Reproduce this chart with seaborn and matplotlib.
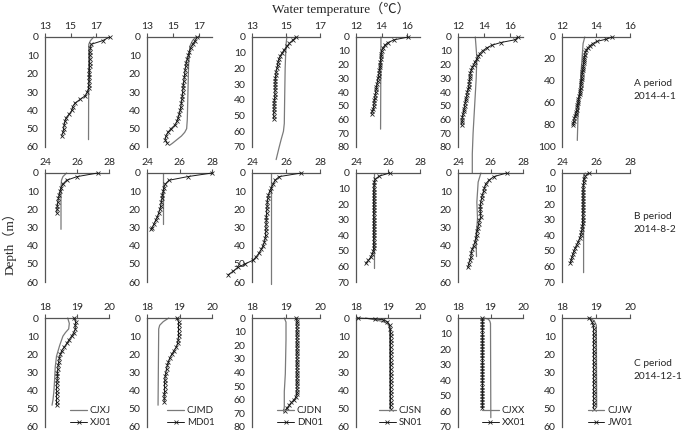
import matplotlib
matplotlib.use('Agg')
import matplotlib.pyplot as plt
import pandas as pd
import seaborn as sns

# (depth m, water temperature C)
# A period 2014-4-1
A_CJXJ = [(0, 16.8), (2, 16.55), (4, 16.42), (56, 16.4)]
A_XJ01 = [(0, 18.05), (2, 17.5), (4, 16.6), (6, 16.55), (8, 16.5), (10, 16.5), (12, 16.5), (14, 16.48),
          (16, 16.48), (18, 16.47), (20, 16.47), (22, 16.46), (24, 16.45), (26, 16.43), (28, 16.4),
          (30, 16.3), (32, 16.15), (34, 15.75), (36, 15.35), (38, 15.15), (40, 15.1), (42, 14.9),
          (44, 14.65), (46, 14.55), (48, 14.5), (50, 14.45), (52, 14.4), (54, 14.3)]
A_CJMD = [(0, 16.75), (2, 16.5), (5, 16.3), (15, 16.2), (30, 16.15), (45, 16.1), (50, 16.05),
          (52, 15.9), (54, 15.65), (56, 15.3), (58, 14.95), (59, 14.75)]
A_MD01 = [(0, 16.85), (2, 16.7), (4, 16.5), (6, 16.35), (8, 16.25), (10, 16.18), (12, 16.1), (14, 16.02),
          (16, 15.98), (18, 15.93), (20, 15.9), (22, 15.87), (24, 15.83), (26, 15.8), (28, 15.77),
          (30, 15.74), (32, 15.72), (34, 15.68), (36, 15.65), (38, 15.6), (40, 15.55), (42, 15.48),
          (44, 15.4), (46, 15.3), (48, 15.15), (50, 14.85), (52, 14.6), (54, 14.45), (56, 14.4), (58, 14.55)]
A_CJDN = [(0, 15.05), (5, 15.0), (20, 14.95), (40, 14.92), (55, 14.9), (60, 14.85), (65, 14.72),
          (70, 14.6), (78, 14.42)]
A_DN01 = [(0, 15.6), (2, 15.4), (4, 15.2), (6, 15.06), (8, 14.9), (10, 14.78), (12, 14.66), (14, 14.58),
          (16, 14.53), (18, 14.5), (20, 14.46), (22, 14.42), (24, 14.4), (26, 14.38), (28, 14.37),
          (30, 14.36), (32, 14.36), (34, 14.35), (36, 14.35), (38, 14.34), (40, 14.32), (42, 14.3),
          (44, 14.3), (46, 14.29), (48, 14.28), (50, 14.28), (52, 14.28)]
A_CJSN = [(0, 13.95), (67, 13.92)]
A_SN01 = [(0, 16.1), (2, 15.0), (4, 14.5), (6, 14.25), (8, 14.1), (10, 14.0), (12, 13.97), (14, 13.95),
          (16, 13.93), (18, 13.9), (20, 13.88), (22, 13.86), (24, 13.83), (26, 13.8), (28, 13.76),
          (30, 13.72), (32, 13.68), (34, 13.64), (36, 13.6), (38, 13.57), (40, 13.54), (42, 13.5),
          (44, 13.47), (46, 13.44), (48, 13.41), (50, 13.39), (52, 13.35), (54, 13.28), (56, 13.22)]
A_CJXX = [(0, 13.33), (15, 13.45), (30, 13.4), (50, 13.28), (70, 13.16), (85, 13.1), (99, 13.1)]
A_XX01 = [(0, 16.6), (2, 16.4), (4, 15.3), (6, 14.6), (8, 14.2), (10, 13.9), (12, 13.68), (14, 13.55),
          (16, 13.45), (18, 13.3), (20, 13.2), (22, 13.1), (24, 13.02), (26, 12.95), (28, 12.92),
          (30, 12.9), (32, 12.88), (34, 12.85), (36, 12.83), (38, 12.78), (40, 12.72), (42, 12.68),
          (44, 12.63), (46, 12.58), (48, 12.55), (50, 12.5), (52, 12.47), (54, 12.43), (56, 12.38),
          (58, 12.34), (60, 12.32), (62, 12.3), (64, 12.28)]
A_CJJW = [(0, 13.34), (6, 13.24), (28, 13.14), (52, 13.04), (67, 12.95), (94, 12.9)]
A_JW01 = [(0, 14.95), (2, 14.6), (4, 14.05), (6, 13.8), (8, 13.64), (10, 13.5), (12, 13.42), (14, 13.37),
          (16, 13.34), (18, 13.32), (20, 13.3), (22, 13.29), (24, 13.27), (26, 13.25), (28, 13.24),
          (30, 13.22), (32, 13.2), (34, 13.19), (36, 13.17), (38, 13.15), (40, 13.14), (42, 13.12),
          (44, 13.11), (46, 13.1), (48, 13.08), (50, 13.06), (52, 13.04), (54, 13.0), (56, 12.97),
          (58, 12.95), (60, 12.93), (62, 12.91), (64, 12.9), (66, 12.87), (68, 12.83), (70, 12.8),
          (72, 12.77), (74, 12.73), (76, 12.7), (78, 12.67), (80, 12.65)]

# B period 2014-8-2
B_CJXJ = [(0, 25.35), (2, 25.12), (4, 25.03), (8, 25.0), (31, 25.0)]
B_XJ01 = [(0, 27.3), (2, 26.0), (4, 25.35), (6, 25.12), (8, 25.0), (10, 24.94), (12, 24.89), (14, 24.84),
          (16, 24.8), (18, 24.77), (20, 24.75), (22, 24.74)]
B_CJMD = [(0, 25.0), (28, 25.0)]
B_MD01 = [(0, 28.0), (2, 26.5), (4, 25.35), (6, 25.13), (8, 25.04), (10, 25.0), (12, 24.95), (14, 24.92),
          (16, 24.89), (18, 24.84), (20, 24.79), (22, 24.72), (24, 24.64), (26, 24.53), (28, 24.43),
          (30, 24.32), (31, 24.25)]
B_CJDN = [(0, 25.1), (61, 25.1)]
B_DN01 = [(0, 26.9), (2, 25.6), (4, 25.35), (6, 25.25), (8, 25.14), (10, 25.04), (12, 24.97), (14, 24.93),
          (16, 24.9), (18, 24.89), (20, 24.87), (22, 24.86), (24, 24.85), (26, 24.84), (28, 24.83),
          (30, 24.82), (32, 24.81), (34, 24.8), (36, 24.77), (38, 24.73), (40, 24.65), (42, 24.55),
          (44, 24.42), (46, 24.25), (48, 24.06), (50, 23.6), (52, 23.15), (54, 22.9), (56, 22.6)]
B_CJSN = [(0, 25.12), (61, 25.12)]
B_SN01 = [(0, 26.1), (2, 25.45), (4, 25.2), (6, 25.14), (8, 25.12), (10, 25.11), (12, 25.1), (14, 25.1),
          (16, 25.1), (18, 25.1), (20, 25.1), (22, 25.1), (24, 25.1), (26, 25.1), (28, 25.1), (30, 25.1),
          (32, 25.1), (34, 25.1), (36, 25.1), (38, 25.1), (40, 25.1), (42, 25.1), (44, 25.1), (46, 25.1),
          (48, 25.1), (50, 25.08), (52, 25.03), (54, 24.92), (56, 24.78), (58, 24.6)]
B_CJXX = [(0, 25.41), (5, 25.24), (16, 25.16), (25, 25.2), (30, 25.16), (35, 25.1), (46, 25.14)]
B_XX01 = [(0, 27.0), (2, 26.2), (4, 25.9), (6, 25.7), (8, 25.63), (10, 25.57), (12, 25.5), (14, 25.45),
          (16, 25.4), (18, 25.38), (20, 25.37), (22, 25.38), (24, 25.4), (26, 25.32), (28, 25.27),
          (30, 25.23), (32, 25.18), (34, 25.14), (36, 25.1), (38, 25.04), (40, 24.96), (42, 24.87),
          (44, 24.82), (46, 24.8), (48, 24.73), (50, 24.66), (52, 24.6)]
B_CJJW = [(0, 25.37), (2, 25.27), (64, 25.27)]
B_JW01 = [(0, 25.56), (2, 25.38), (4, 25.3), (6, 25.27), (8, 25.25), (10, 25.24), (12, 25.23), (14, 25.23),
          (16, 25.23), (18, 25.23), (20, 25.23), (22, 25.23), (24, 25.22), (26, 25.22), (28, 25.22),
          (30, 25.21), (32, 25.21), (34, 25.2), (36, 25.18), (38, 25.14), (40, 25.1), (42, 25.03),
          (44, 24.96), (46, 24.86), (48, 24.78), (50, 24.7), (52, 24.64), (54, 24.58), (56, 24.53), (58, 24.49)]

# C period 2014-12-1
C_CJXJ = [(0, 18.71), (3, 18.76), (6, 18.74), (8, 18.64), (10, 18.56), (15, 18.46), (18, 18.41),
          (21, 18.36), (27, 18.32), (34, 18.3), (40, 18.28), (45, 18.25), (48, 18.22)]
C_XJ01 = [(0, 18.91), (2, 18.96), (4, 18.94), (6, 18.95), (8, 18.9), (10, 18.83), (12, 18.75), (14, 18.68),
          (16, 18.6), (18, 18.52), (20, 18.48), (22, 18.45), (24, 18.43), (26, 18.41), (28, 18.4),
          (30, 18.39), (32, 18.39), (34, 18.38), (36, 18.37), (38, 18.36), (40, 18.36), (42, 18.36),
          (44, 18.36), (46, 18.36), (48, 18.36)]
C_CJMD = [(0, 18.67), (2, 18.5), (4, 18.39), (6, 18.36), (48, 18.34)]
C_MD01 = [(0, 18.92), (2, 18.97), (4, 18.97), (6, 18.97), (8, 18.97), (10, 18.97), (12, 18.96), (14, 18.94),
          (16, 18.9), (18, 18.83), (20, 18.76), (22, 18.7), (24, 18.66), (26, 18.63), (28, 18.6),
          (30, 18.58), (32, 18.56), (34, 18.55), (36, 18.54), (38, 18.54), (40, 18.54), (42, 18.53),
          (44, 18.53), (46, 18.53)]
C_CJDN = [(0, 18.95), (3, 19.0), (16, 19.0), (41, 18.98), (54, 18.95), (65, 18.95), (69, 18.93)]
C_DN01 = [(0, 19.3), (2, 19.32), (4, 19.32), (6, 19.32), (8, 19.32), (10, 19.32), (12, 19.32), (14, 19.32),
          (16, 19.32), (18, 19.32), (20, 19.32), (22, 19.32), (24, 19.32), (26, 19.32), (28, 19.32),
          (30, 19.32), (32, 19.32), (34, 19.32), (36, 19.32), (38, 19.32), (40, 19.32), (42, 19.32),
          (44, 19.32), (46, 19.32), (48, 19.32), (50, 19.32), (52, 19.32), (54, 19.32), (56, 19.31),
          (58, 19.29), (60, 19.24), (62, 19.16), (64, 19.1), (66, 19.03), (68, 18.97)]
C_CJSN = [(0, 18.3), (1, 18.6), (2, 18.85), (3, 18.98), (5, 19.05), (50, 19.06)]
C_SN01 = [(0, 18.05), (0.5, 18.6), (1, 18.85), (2, 18.98), (4, 19.05), (6, 19.07), (8, 19.08), (10, 19.08),
          (12, 19.08), (14, 19.08), (16, 19.08), (18, 19.08), (20, 19.08), (22, 19.08), (24, 19.08),
          (26, 19.08), (28, 19.08), (30, 19.08), (32, 19.08), (34, 19.08), (36, 19.08), (38, 19.08),
          (40, 19.08), (42, 19.08), (44, 19.08), (46, 19.08), (48, 19.08), (50, 19.08)]
C_CJXX = [(0, 18.8), (0.7, 18.93), (2, 18.98), (3.5, 19.0), (64, 19.01)]
C_XX01 = [(0, 18.75), (2, 18.75), (4, 18.75), (6, 18.75), (8, 18.75), (10, 18.75), (12, 18.75), (14, 18.75),
          (16, 18.75), (18, 18.75), (20, 18.75), (22, 18.75), (24, 18.75), (26, 18.75), (28, 18.75),
          (30, 18.75), (32, 18.75), (34, 18.75), (36, 18.75), (38, 18.75), (40, 18.75), (42, 18.75),
          (44, 18.75), (46, 18.75), (48, 18.75), (50, 18.75), (52, 18.75), (54, 18.75), (56, 18.75), (58, 18.75)]
C_CJJW = [(0, 18.78), (1, 18.9), (2, 18.96), (4, 19.01), (49, 19.02)]
C_JW01 = [(0, 18.8), (2, 18.88), (4, 18.92), (6, 18.93), (8, 18.93), (10, 18.93), (12, 18.93), (14, 18.93),
          (16, 18.93), (18, 18.93), (20, 18.93), (22, 18.93), (24, 18.93), (26, 18.93), (28, 18.93),
          (30, 18.93), (32, 18.93), (34, 18.93), (36, 18.93), (38, 18.93), (40, 18.93), (42, 18.93),
          (44, 18.93), (46, 18.93), (48, 18.93), (50, 18.93)]

STATIONS = ['XJ', 'MD', 'DN', 'SN', 'XX', 'JW']
PERIODS = ['A period\n2014-4-1', 'B period\n2014-8-2', 'C period\n2014-12-1']
GRAY = [[A_CJXJ, A_CJMD, A_CJDN, A_CJSN, A_CJXX, A_CJJW],
        [B_CJXJ, B_CJMD, B_CJDN, B_CJSN, B_CJXX, B_CJJW],
        [C_CJXJ, C_CJMD, C_CJDN, C_CJSN, C_CJXX, C_CJJW]]
MARKED = [[A_XJ01, A_MD01, A_DN01, A_SN01, A_XX01, A_JW01],
          [B_XJ01, B_MD01, B_DN01, B_SN01, B_XX01, B_JW01],
          [C_XJ01, C_MD01, C_DN01, C_SN01, C_XX01, C_JW01]]
X_LIMITS = [[(13, 18), (13, 18), (13, 17), (12, 17), (12, 17), (12, 16)],
            [(24, 28)] * 6,
            [(18, 20)] * 6]
X_TICKS = [[[13, 15, 17]] * 3 + [[12, 14, 16]] * 3,
           [[24, 26, 28]] * 6,
           [[18, 19, 20]] * 6]
Y_MAX = [[60, 60, 70, 80, 80, 100],
         [60, 60, 60, 70, 60, 70],
         [60, 60, 80, 60, 70, 60]]
Y_STEP = [[10, 10, 10, 10, 10, 20], [10] * 6, [10] * 6]

sns.set_style('white')
plt.rcParams['font.family'] = ['Lato', 'DejaVu Sans']

W, H = 685, 433
col_left = [45, 147, 252, 356, 458, 562]
col_w = [64, 65, 68, 64, 65, 68]
row_top = [37, 173, 318]
row_h = [110, 109, 109]
axis_col = '#555555'

fig = plt.figure(figsize=(W / 100, H / 100), dpi=100)

for r in range(3):
    for c in range(6):
        ax = fig.add_axes([col_left[c] / W, 1 - (row_top[r] + row_h[r]) / H, col_w[c] / W, row_h[r] / H])
        g = pd.DataFrame(GRAY[r][c], columns=['depth', 'temp'])
        m = pd.DataFrame(MARKED[r][c], columns=['depth', 'temp'])
        sns.lineplot(data=g, x='temp', y='depth', sort=False, estimator=None, color='#7a7a7a',
                     lw=0.9, ax=ax, label='CJ' + STATIONS[c], clip_on=False, zorder=2)
        sns.lineplot(data=m, x='temp', y='depth', sort=False, estimator=None, color='#1a1a1a',
                     lw=0.7, marker='x', markersize=2.6, markeredgewidth=0.55,
                     markeredgecolor='#1a1a1a', markerfacecolor='#1a1a1a', ax=ax,
                     label=STATIONS[c] + '01', clip_on=False, zorder=3)
        ax.set_xlabel('')
        ax.set_ylabel('')
        ax.set_xlim(*X_LIMITS[r][c])
        ax.set_ylim(Y_MAX[r][c], 0)
        ax.xaxis.tick_top()
        ax.set_xticks(X_TICKS[r][c])
        ax.set_yticks(list(range(0, Y_MAX[r][c] + 1, Y_STEP[r][c])))
        for s in ['right', 'bottom']:
            ax.spines[s].set_visible(False)
        for s in ['left', 'top']:
            ax.spines[s].set_color(axis_col)
            ax.spines[s].set_linewidth(0.9)
        ax.tick_params(direction='out', length=3, width=0.8, color=axis_col,
                       labelsize=7.5, pad=1.5)
        if ax.get_legend() is not None:
            ax.get_legend().remove()
        if r == 2:
            ax.legend(loc='lower right', bbox_to_anchor=(1.1, -0.04), frameon=False, fontsize=7,
                      handlelength=1.7, handletextpad=0.3, labelspacing=0.35, borderaxespad=0)

serif = ['Liberation Serif', 'Noto Sans CJK SC', 'DejaVu Sans']
fig.text(341 / W, 1 - 9 / H, 'Water temperature（℃）', ha='center', va='center', fontsize=9.5, family=serif)
fig.text(9 / W, 1 - 240 / H, 'Depth（m）', rotation=90, ha='center', va='center', fontsize=9.5, family=serif)
for r, y in enumerate([90, 223, 370]):
    fig.text(634 / W, 1 - y / H, PERIODS[r], ha='left', va='center', fontsize=7.3, linespacing=1.45)

fig.savefig('out.png', dpi=100)
